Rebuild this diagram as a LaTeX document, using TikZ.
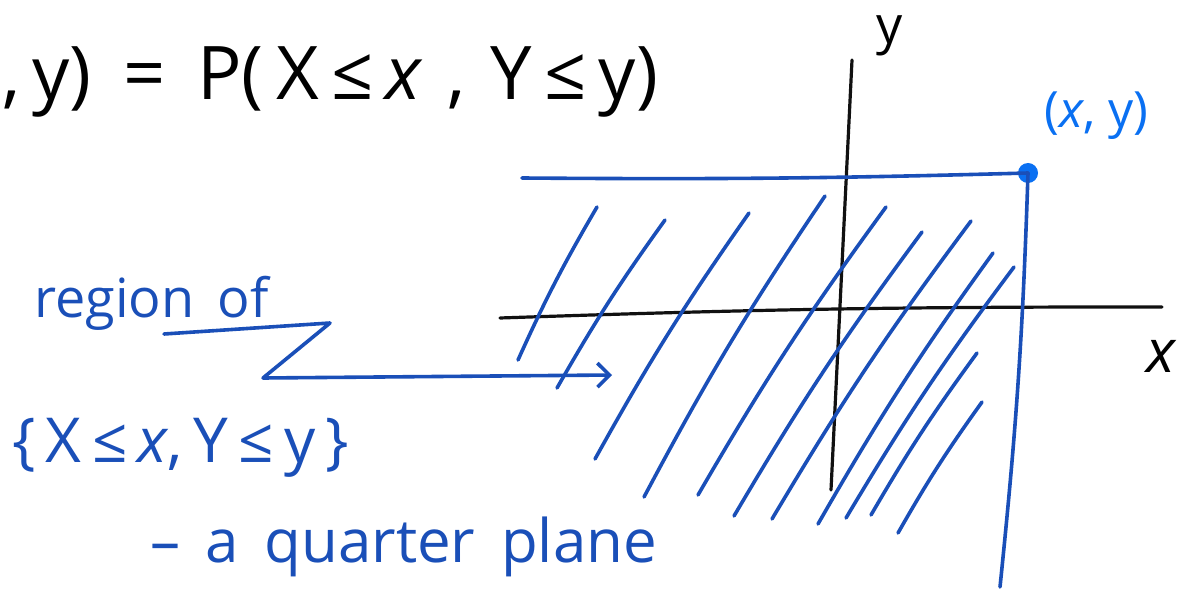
\documentclass[tikz,border=0pt]{standalone}
\usepackage{fontspec}
\setmainfont{Open Sans}
\usetikzlibrary{arrows.meta}
\definecolor{Pen}{HTML}{1A4FB8}
\definecolor{Sky}{HTML}{0A70F2}
\definecolor{Ink}{HTML}{111111}

\begin{document}
\begin{tikzpicture}[x=1pt,y=-1pt,
  hatch/.style={draw=Pen,line width=3.6pt,line cap=round},
  axisline/.style={draw=Ink,line width=3.2pt,line cap=round},
  scrawl/.style={inner sep=0pt,anchor=base west}]
  \useasboundingbox (0,0) rectangle (1204,601);
  \clip (0,0) rectangle (1204,601);
  % formula on top
  \node[scrawl,font=\fontsize{74}{80}\selectfont] (cdf) at (2,100)
    {,\,y)\, =\, P(\,X\,≤\,\textit{x}\,\,,\,\,Y\,≤\,y)};
  % axes
  \draw[axisline] (500,318) to[bend left=1] (1162,307);
  \draw[axisline] (852,60) -- (831,490);
  \node[scrawl,font=\fontsize{52}{56}\selectfont] (ylab) at (876,44) {y};
  \node[scrawl,font=\fontsize{60}{64}\selectfont\itshape] (xlab) at (1146,372) {x};
  % the point and its two edges
  \node[circle,fill=Sky,minimum size=20pt,inner sep=0pt] (pt) at (1028,173) {};
  \node[scrawl,font=\fontsize{50}{54}\selectfont,text=Sky] (ptlab) at (1044,128) {(\textit{x}, y)};
  \draw[hatch] (522,178) to[bend right=1] (pt.center);
  \draw[hatch] (pt.center) to[bend left=2] (1000,587);
  % hatching
  \foreach \xa/\ya/\xb/\yb in {518/360/597/207, 557/388/665/220, 595/459/749/213,
      644/497/825/196, 698/495/886/207, 734/516/922/232, 772/519/971/221,
      818/524/993/253, 846/518/1014/267, 871/515/977/353, 898/533/982/402}
    \draw[hatch] (\xa,\ya) to[bend left=3] (\xb,\yb);
  % labels on the left
  \node[scrawl,font=\fontsize{54}{58}\selectfont,text=Pen] (region) at (34,318) {region\, of};
  \node[scrawl,font=\fontsize{62}{68}\selectfont,text=Pen] (event) at (12,462)
    {\{\,X\,≤\,\textit{x},\,Y\,≤\,y\,\}};
  \node[scrawl,font=\fontsize{60}{66}\selectfont,text=Pen] (quarter) at (150,562)
    {–\, a\, quarter\, plane};
  \coordinate (zz1) at (164,334);
  \coordinate (zz2) at (330,323);
  \coordinate (zz3) at (263,378);
  \coordinate (zz4) at (612,375);
  \draw[hatch,line join=round,-{Straight Barb[length=12pt,width=24pt]}]
    (zz1) -- (zz2) -- (zz3) -- (zz4);
\end{tikzpicture}
\end{document}
